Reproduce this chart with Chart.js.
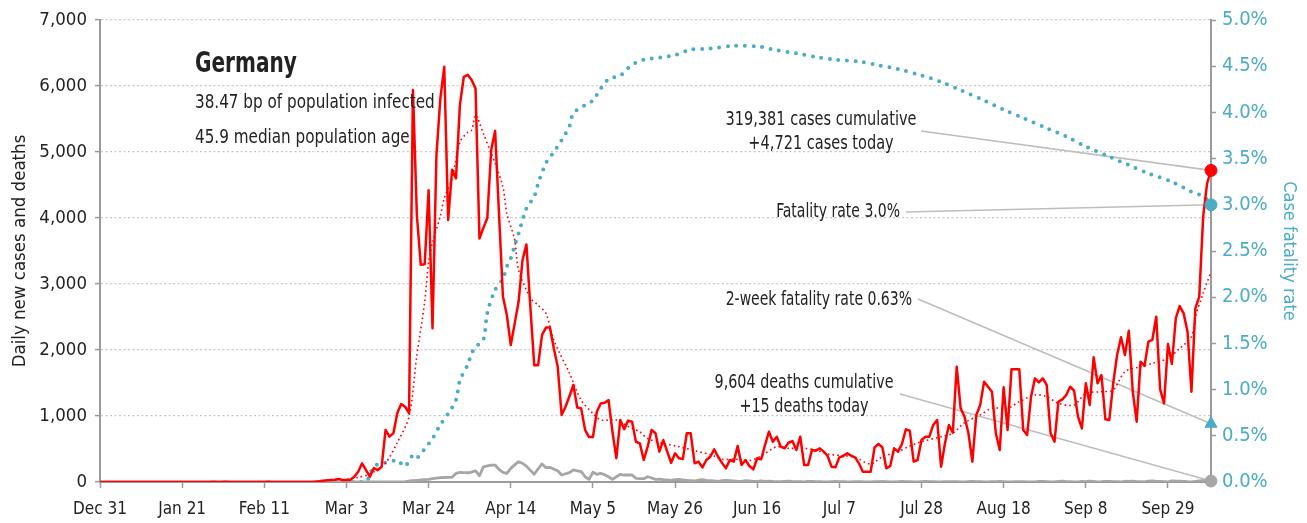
<!DOCTYPE html>
<html><head><meta charset="utf-8">
<script src="https://cdn.jsdelivr.net/npm/chart.js@4.4.1/dist/chart.umd.min.js"></script>
<style>html,body{margin:0;padding:0;background:#fff}#wrap{width:1307px;height:523px;position:relative}</style>
</head><body><div id="wrap"><canvas id="c"></canvas></div>
<script>
const FONT = '"Liberation Sans Narrow", "DejaVu Sans Condensed", "DejaVu Sans", sans-serif';

// x axis: day number since Dec 31
const xTickDays = [0,21,42,63,84,105,126,147,168,189,210,231,252,273];
const xTickLabels = ['Dec 31','Jan 21','Feb 11','Mar 3','Mar 24','Apr 14','May 5','May 26','Jun 16','Jul 7','Jul 28','Aug 18','Sep 8','Sep 29'];

// daily new cases, day 0 .. 284
const dailyCases = [
  0,0,0,0,0,0,0,0,0,0,
  0,0,0,0,0,0,0,0,0,0,
  0,0,0,0,0,0,0,0,1,3,
  0,1,3,0,1,1,0,0,0,0,
  0,0,0,2,0,0,0,0,0,0,
  0,0,0,0,0,5,10,20,25,30,
  35,45,30,30,35,80,156,283,180,80,
  212,180,232,788,687,740,1045,1180,1140,1045,
  5940,4045,3290,3300,4420,2330,4950,5810,6290,3970,
  4730,4600,5710,6140,6170,6090,5960,3690,3850,4000,
  5030,5320,4060,2810,2530,2075,2400,2730,3360,3600,
  2660,1770,1770,2230,2340,2340,2025,1750,1015,1140,
  1300,1470,1130,1115,790,680,680,1065,1190,1200,
  1240,760,360,940,800,930,915,610,585,333,
  535,788,738,460,636,460,292,435,360,350,
  738,738,283,308,222,333,383,495,383,290,
  207,333,308,545,258,333,242,192,360,344,
  560,762,610,686,535,510,595,620,485,686,
  258,258,485,475,510,460,394,232,222,374,
  394,435,400,374,283,156,156,156,525,576,
  525,207,242,510,460,576,798,778,308,333,
  636,686,686,864,940,232,586,864,747,1747,
  1117,989,738,308,1015,1167,1520,1444,1368,738,
  485,1434,788,1707,1707,1707,788,712,1293,1570,
  1510,1570,1470,738,611,1217,1252,1318,1444,1384,
  990,813,1495,1167,1889,1495,1621,950,940,1495,
  1924,2192,1924,2293,1368,914,1823,1758,2126,2152,
  2505,1403,1192,2091,1788,2480,2667,2556,2278,1368,
  2631,2808,4020,4525,4721
];

// trend of daily cases (read at sampled days)
const trendDays   = [62,66,69,73,76,79,81,83,84,85,87,88,90,92,94,95,96,98,100,101,103,104,106,107,110,112,114,116,120,123,126,128,132,135,138,140,144,148,152,157,159,163,166,169,173,176,180,183,186,190,193,197,200,204,207,210,215,218,221,225,228,232,235,239,242,245,249,252,256,259,262,266,269,273,276,279,280,282,284];
const trendValues = [30,70,120,290,600,990,1920,2730,3330,3630,4030,4300,4600,5150,5300,5330,5560,5280,4980,4830,4470,4070,3670,3210,2790,2680,2555,2150,1650,1240,1040,940,940,840,760,660,585,535,475,394,344,344,323,394,535,510,510,485,424,400,374,273,383,460,545,610,686,738,898,1015,1117,1117,1217,1318,1293,1192,1167,1343,1368,1394,1671,1747,1798,1874,2025,2202,2505,2859,3187];

// daily deaths, day 0 .. 284
const dailyDeaths = new Array(78).fill(0).concat([
  5,15,
  20,25,30,35,40,50,60,65,68,70,
  72,130,145,142,140,150,170,95,230,245,
  257,257,190,145,130,207,260,308,283,240,
  180,117,200,273,217,222,195,171,106,125,
  141,182,170,156,80,40,147,117,132,110,
  80,40,80,117,106,106,106,56,50,50,
  80,60,40,45,35,30,25,35,40,30,
  25,20,15,30,35,25,20,15,10,20,
  25,20,15,10,10,20,15,10,10,15,
  10,12,8,6,4,10,12,8,6,4,
  3,8,10,6,5,3,2,6,8,5,
  4,3,2,5,7,4,3,2,4,6,
  8,5,2,1,6,9,7,4,2,3,
  6,8,5,4,2,1,4,7,6,5,
  3,2,5,8,6,5,2,1,4,6,
  8,5,3,2,4,6,5,3,1,3,
  10,8,5,3,2,9,12,6,5,3,
  2,8,6,12,8,3,4,8,10,6,
  4,2,11,9,13,7,5,2,12,15,
  10,8,6,3,16,14,12,10,4,3,
  9,16,20,12,15
]);

// case fatality rate, % (read at sampled days)
const cfrDays   = [58,62,66,68,69,70,72,75,76,77,78,80,81,83,85,87,89,91,92,94,95,96,98,99,101,103,104,105,106,107,109,111,112,114,116,118,120,121,124,126,128,130,133,135,137,139,147,151,156,162,169,172,178,183,188,194,199,204,210,215,220,226,231,236,242,247,252,258,263,268,274,279,282,284];
const cfrValues = [0,0,0,0,0.08,0.17,0.20,0.23,0.24,0.20,0.17,0.29,0.26,0.36,0.47,0.62,0.74,0.89,1.10,1.27,1.39,1.46,1.54,1.83,2.08,2.20,2.33,2.42,2.56,2.69,2.96,3.09,3.23,3.45,3.57,3.70,3.85,3.99,4.08,4.13,4.26,4.36,4.40,4.48,4.54,4.57,4.62,4.68,4.69,4.72,4.71,4.68,4.64,4.60,4.57,4.55,4.51,4.47,4.40,4.33,4.24,4.13,4.03,3.94,3.83,3.74,3.63,3.52,3.43,3.34,3.25,3.14,3.09,3.01];

// end values
const lastDay = 284;
const lastCases = 4721;
const lastCfr = 3.0;
const twoWeekCfr = 0.63;
const lastDeaths = 15;

const titleLines = ['Germany', '38.47 bp of population infected', '45.9 median population age'];
const noteCases = ['319,381 cases cumulative', '+4,721 cases today'];
const noteCfr = 'Fatality rate 3.0%';
const note2w = '2-week fatality rate 0.63%';
const noteDeaths = ['9,604 deaths cumulative', '+15 deaths today'];

const RED = '#ff0000', BLUE = '#4bacc6', GREY = '#a6a6a6', AXIS = '#9a9a9a', TXT = '#222222';

const toXY = (days, vals) => days.map((d, i) => ({x: d, y: vals[i]}));
const dailyXY = arr => arr.map((v, i) => ({x: i, y: v}));

// draw text squeezed horizontally to imitate a condensed face
function txt(ctx, s, x, y, size, align, weight, sx) {
  ctx.save();
  ctx.font = (weight || 'normal') + ' ' + size + 'px ' + FONT;
  ctx.textBaseline = 'middle';
  ctx.textAlign = align;
  ctx.translate(x, y);
  ctx.scale(sx, 1);
  ctx.fillText(s, 0, 0);
  ctx.restore();
}

const annot = {
  id: 'annot',
  beforeDatasetsDraw(chart) {
    const {ctx, scales: {x, y, y2}} = chart;
    const px = x.getPixelForValue(lastDay);
    ctx.save();
    ctx.strokeStyle = '#bdbdbd';
    ctx.lineWidth = 1.6;
    const seg = (a, b, c, d) => { ctx.beginPath(); ctx.moveTo(a, b); ctx.lineTo(c, d); ctx.stroke(); };
    seg(921, 131, px, y.getPixelForValue(lastCases));
    seg(906, 212, px, y2.getPixelForValue(lastCfr));
    seg(918, 299, px, y2.getPixelForValue(twoWeekCfr));
    seg(900, 394, px, y.getPixelForValue(lastDeaths));
    ctx.restore();
  },
  afterDraw(chart) {
    const ctx = chart.ctx;
    ctx.save();
    ctx.fillStyle = TXT;
    txt(ctx, titleLines[0], 195, 64, 29, 'left', 'bold', 0.77);
    txt(ctx, titleLines[1], 195, 103, 19, 'left', 'normal', 0.89);
    txt(ctx, titleLines[2], 195, 138, 19, 'left', 'normal', 0.89);
    txt(ctx, noteCases[0], 821, 120, 19, 'center', 'normal', 0.85);
    txt(ctx, noteCases[1], 821, 144, 19, 'center', 'normal', 0.85);
    txt(ctx, noteDeaths[0], 804, 383, 19, 'center', 'normal', 0.84);
    txt(ctx, noteDeaths[1], 804, 407, 19, 'center', 'normal', 0.84);
    txt(ctx, noteCfr, 900, 212, 19, 'right', 'normal', 0.82);
    txt(ctx, note2w, 912, 300, 19, 'right', 'normal', 0.82);
    ctx.restore();
  }
};

const marker = (pt, axis, color, style, r, order) => ({
  type: 'line', data: [pt], yAxisID: axis, showLine: false, clip: false,
  pointRadius: r, pointHoverRadius: r, pointStyle: style,
  pointBackgroundColor: color, pointBorderColor: color, pointBorderWidth: 1, order
});

new Chart(document.getElementById('c'), {
  type: 'line',
  data: {
    datasets: [
      marker({x: lastDay, y: lastCases}, 'y', RED, 'circle', 6, 0),
      marker({x: lastDay, y: lastCfr}, 'y2', BLUE, 'circle', 6, 0),
      marker({x: lastDay, y: twoWeekCfr}, 'y2', BLUE, 'triangle', 7, 0),
      marker({x: lastDay, y: lastDeaths}, 'y', GREY, 'circle', 6, 0),
      { data: dailyXY(dailyCases), yAxisID: 'y', borderColor: RED, borderWidth: 2.5, pointRadius: 0, tension: 0, borderJoinStyle: 'round', order: 1 },
      { data: toXY(trendDays, trendValues), yAxisID: 'y', borderColor: RED, borderWidth: 1.6, borderDash: [1.6, 3], pointRadius: 0, tension: 0.3, order: 2 },
      { data: dailyXY(dailyDeaths), yAxisID: 'y', borderColor: GREY, borderWidth: 2.8, pointRadius: 0, tension: 0, borderJoinStyle: 'round', order: 3 },
      { data: toXY(cfrDays, cfrValues), yAxisID: 'y2', borderColor: BLUE, borderWidth: 4, borderDash: [0, 8.6], borderCapStyle: 'round', pointRadius: 0, tension: 0.3, order: 4 }
    ]
  },
  options: {
    responsive: true, maintainAspectRatio: false, animation: false,
    layout: {padding: {top: 20, left: 0, right: 0, bottom: 0}},
    plugins: {legend: {display: false}, tooltip: {enabled: false}},
    scales: {
      x: {
        type: 'linear', min: 0, max: lastDay, position: 'bottom',
        afterBuildTicks: s => { s.ticks = xTickDays.map(v => ({value: v})); },
        afterFit: s => { s.height = 41; },
        ticks: {autoSkip: false, maxRotation: 0, padding: 11, color: TXT, font: {family: FONT, size: 17},
                callback: v => xTickLabels[xTickDays.indexOf(v)]},
        grid: {drawOnChartArea: false, drawTicks: true, tickLength: 6, tickColor: AXIS, tickWidth: 1.5},
        border: {display: true, color: AXIS, width: 2}
      },
      y: {
        position: 'left', min: 0, max: 7000,
        afterFit: s => { s.width = 100; },
        ticks: {stepSize: 1000, padding: 8, color: TXT, font: {family: FONT, size: 18.5},
                callback: v => v.toLocaleString('en-US')},
        grid: {color: '#c8c8c8', lineWidth: 1.2, tickLength: 5, tickColor: AXIS, tickWidth: 1.5},
        border: {display: true, color: AXIS, width: 2, dash: [2, 2.5]},
        title: {display: true, text: 'Daily new cases and deaths', color: TXT, font: {family: FONT, size: 18.5}, padding: {top: 9, bottom: 2}}
      },
      y2: {
        position: 'right', min: 0, max: 5,
        afterFit: s => { s.width = 96; },
        ticks: {stepSize: 0.5, padding: 6, color: BLUE, font: {family: FONT, size: 20},
                callback: v => v.toFixed(1) + '%'},
        grid: {drawOnChartArea: false, tickLength: 5, tickColor: AXIS, tickWidth: 1.5},
        border: {display: true, color: AXIS, width: 2},
        title: {display: true, text: 'Case fatality rate', color: BLUE, font: {family: FONT, size: 18}, padding: {top: 8, bottom: 2}}
      }
    }
  },
  plugins: [annot]
});
</script>
</body></html>
